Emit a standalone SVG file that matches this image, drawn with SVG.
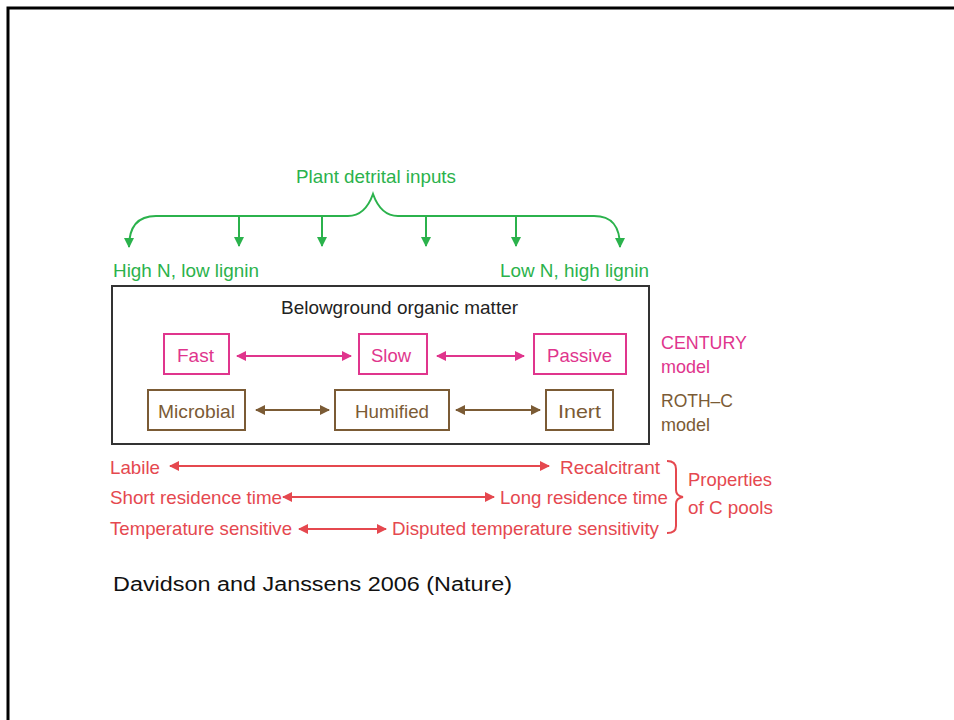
<svg xmlns="http://www.w3.org/2000/svg" width="954" height="720" viewBox="0 0 954 720">
<defs>
<style>
text{font-family:"Liberation Sans",Arial,sans-serif;}
.g{fill:#2bb24c;font-size:19px}
.p{fill:#e0358d;font-size:19px}
.b{fill:#7b5b35;font-size:19px}
.r{fill:#e5484f;font-size:19px}
.k{fill:#222;font-size:19px}
.gl{fill:none;stroke:#2bb24c;stroke-width:2}
.pl{fill:none;stroke:#e0358d;stroke-width:2}
.bl{fill:none;stroke:#7b5b35;stroke-width:2}
.rl{fill:none;stroke:#e5484f;stroke-width:2}
</style>
<marker id="ag" viewBox="0 0 10 10" refX="9" refY="5" markerWidth="10" markerHeight="10" markerUnits="userSpaceOnUse" orient="auto-start-reverse"><path d="M0,0 L10,5 L0,10 Z" fill="#2bb24c"/></marker>
<marker id="ap" viewBox="0 0 10 10" refX="9" refY="5" markerWidth="10" markerHeight="10" markerUnits="userSpaceOnUse" orient="auto-start-reverse"><path d="M0,0 L10,5 L0,10 Z" fill="#e0358d"/></marker>
<marker id="ab" viewBox="0 0 10 10" refX="9" refY="5" markerWidth="10" markerHeight="10" markerUnits="userSpaceOnUse" orient="auto-start-reverse"><path d="M0,0 L10,5 L0,10 Z" fill="#7b5b35"/></marker>
<marker id="ar" viewBox="0 0 10 10" refX="9" refY="5" markerWidth="10" markerHeight="10" markerUnits="userSpaceOnUse" orient="auto-start-reverse"><path d="M0,0 L10,5 L0,10 Z" fill="#e5484f"/></marker>
</defs>
<rect width="954" height="720" fill="#fff"/>
<path d="M8,722 L8,8 L958,8" fill="none" stroke="#000" stroke-width="3"/>

<g id="inputs">
<text class="g" x="296" y="183" textLength="160" lengthAdjust="spacingAndGlyphs">Plant detrital inputs</text>
</g>
<g id="highN"><text class="g" x="113" y="277" textLength="146" lengthAdjust="spacingAndGlyphs">High N, low lignin</text></g>
<g id="lowN"><text class="g" x="500" y="277" textLength="149" lengthAdjust="spacingAndGlyphs">Low N, high lignin</text></g>

<g id="bom">
<rect x="112" y="286" width="537" height="158" fill="none" stroke="#333" stroke-width="2"/>
<text class="k" x="281" y="314" textLength="237" lengthAdjust="spacingAndGlyphs">Belowground organic matter</text>
</g>

<g id="fast"><rect x="164" y="334" width="65" height="40" fill="#fff" stroke="#e0358d" stroke-width="2"/><text class="p" x="177" y="362" textLength="37" lengthAdjust="spacingAndGlyphs">Fast</text></g>
<g id="slow"><rect x="359" y="334" width="68" height="40" fill="#fff" stroke="#e0358d" stroke-width="2"/><text class="p" x="371" y="362" textLength="40" lengthAdjust="spacingAndGlyphs">Slow</text></g>
<g id="passive"><rect x="534" y="334" width="92" height="40" fill="#fff" stroke="#e0358d" stroke-width="2"/><text class="p" x="547" y="362" textLength="65" lengthAdjust="spacingAndGlyphs">Passive</text></g>
<g id="microbial"><rect x="148" y="390" width="97" height="40" fill="#fff" stroke="#7b5b35" stroke-width="2"/><text class="b" x="158" y="418" textLength="77" lengthAdjust="spacingAndGlyphs">Microbial</text></g>
<g id="humified"><rect x="335" y="390" width="114" height="40" fill="#fff" stroke="#7b5b35" stroke-width="2"/><text class="b" x="355" y="418" textLength="74" lengthAdjust="spacingAndGlyphs">Humified</text></g>
<g id="inert"><rect x="546" y="390" width="67" height="40" fill="#fff" stroke="#7b5b35" stroke-width="2"/><text class="b" x="558" y="418" textLength="43" lengthAdjust="spacingAndGlyphs">Inert</text></g>

<g id="century"><text class="p" x="661" y="349" textLength="86" lengthAdjust="spacingAndGlyphs">CENTURY</text><text class="p" x="661" y="373" textLength="49" lengthAdjust="spacingAndGlyphs">model</text></g>
<g id="rothc"><text class="b" x="661" y="407" textLength="72" lengthAdjust="spacingAndGlyphs">ROTH–C</text><text class="b" x="661" y="431" textLength="49" lengthAdjust="spacingAndGlyphs">model</text></g>

<g id="props">
<text class="r" x="110" y="474" textLength="50" lengthAdjust="spacingAndGlyphs">Labile</text>
<text class="r" x="560" y="474" textLength="100" lengthAdjust="spacingAndGlyphs">Recalcitrant</text>
<text class="r" x="110" y="504" textLength="172" lengthAdjust="spacingAndGlyphs">Short residence time</text>
<text class="r" x="500" y="504" textLength="168" lengthAdjust="spacingAndGlyphs">Long residence time</text>
<text class="r" x="110" y="535" textLength="182" lengthAdjust="spacingAndGlyphs">Temperature sensitive</text>
<text class="r" x="392" y="535" textLength="267" lengthAdjust="spacingAndGlyphs">Disputed temperature sensitivity</text>
<text class="r" x="688" y="486" textLength="84" lengthAdjust="spacingAndGlyphs">Properties</text>
<text class="r" x="688" y="514" textLength="85" lengthAdjust="spacingAndGlyphs">of C pools</text>
</g>

<g id="citation"><text x="113" y="591" font-size="20" fill="#111" font-family="'DejaVu Sans',sans-serif" textLength="399" lengthAdjust="spacingAndGlyphs">Davidson and Janssens 2006 (Nature)</text></g>

<g id="connectors">
<path class="gl" d="M129,247 C129,226 138,216 156,216 L348,216 C360,216 368,208 373,194 C378,208 386,216 398,216 L594,216 C612,216 620,226 620,247" marker-start="url(#ag)" marker-end="url(#ag)"/>
<path class="gl" d="M239,216 L239,246" marker-end="url(#ag)"/>
<path class="gl" d="M322,216 L322,246" marker-end="url(#ag)"/>
<path class="gl" d="M426,216 L426,246" marker-end="url(#ag)"/>
<path class="gl" d="M516,216 L516,246" marker-end="url(#ag)"/>
<path class="pl" d="M237,356 L351,356" marker-start="url(#ap)" marker-end="url(#ap)"/>
<path class="pl" d="M437,356 L524,356" marker-start="url(#ap)" marker-end="url(#ap)"/>
<path class="bl" d="M256,410 L329,410" marker-start="url(#ab)" marker-end="url(#ab)"/>
<path class="bl" d="M456,410 L540,410" marker-start="url(#ab)" marker-end="url(#ab)"/>
<path class="rl" d="M170,466 L549,466" marker-start="url(#ar)" marker-end="url(#ar)"/>
<path class="rl" d="M283,497 L494,497" marker-start="url(#ar)" marker-end="url(#ar)"/>
<path class="rl" d="M299,529 L386,529" marker-start="url(#ar)" marker-end="url(#ar)"/>
<path class="rl" d="M667,461 Q676,461 676,469 L676,490 Q676,496 683,497 Q676,498 676,504 L676,526 Q676,533 667,533"/>
</g>
</svg>
